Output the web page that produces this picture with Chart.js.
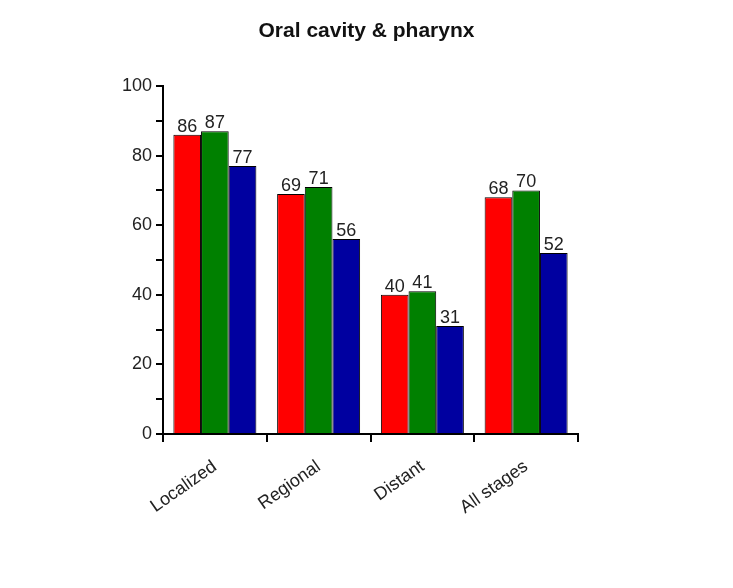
<!DOCTYPE html>
<html><head><meta charset="utf-8">
<script src="https://cdn.jsdelivr.net/npm/chart.js@4"></script>
<style>html,body{margin:0;padding:0;background:#fff}#w{width:733px;height:588px}</style>
</head><body><div id="w"><canvas id="c"></canvas></div>
<script>
const categories = ["Localized","Regional","Distant","All stages"];
const seriesA = [86,69,40,68];
const seriesB = [87,71,41,70];
const seriesC = [77,56,31,52];
const colors = ["#ff0000","#008000","#0000a0"];
const titleText = "Oral cavity & pharynx";
const labelPlugin = {
  id:'vals',
  afterDatasetsDraw(chart){
    const ctx=chart.ctx;
    ctx.save();ctx.font='18px Arial, "Liberation Sans"';ctx.fillStyle='#222';ctx.textAlign='center';ctx.textBaseline='bottom';
    chart.data.datasets.forEach((ds,i)=>{
      chart.getDatasetMeta(i).data.forEach((b,j)=>{ctx.fillText(ds.data[j],b.x,b.y+1);});
    });
    ctx.font='bold 21px Arial, "Liberation Sans"';ctx.fillStyle='#111';ctx.textBaseline='middle';
    ctx.fillText(titleText,chart.width/2,31);
    ctx.restore();
  }
};
new Chart(document.getElementById('c'),{
  type:'bar',
  data:{labels:categories,datasets:[seriesA,seriesB,seriesC].map((d,i)=>({data:d,backgroundColor:colors[i],borderColor:'#000',borderWidth:1,categoryPercentage:0.8,barPercentage:1}))},
  options:{
    responsive:true,maintainAspectRatio:false,animation:false,
    layout:{padding:{left:0,right:155,top:86,bottom:0}},
    plugins:{legend:{display:false},tooltip:{enabled:false},title:{display:false}},
    scales:{
      y:{min:0,max:100,afterFit(s){s.width=163;},
        ticks:{stepSize:10,color:'#222',font:{family:'Arial, "Liberation Sans"',size:18},callback:v=>v%20===0?v:'',padding:4},
        grid:{drawOnChartArea:false,color:'#000',tickLength:7,lineWidth:2},border:{color:'#000',width:2}},
      x:{afterFit(s){s.height=154;},
        ticks:{color:'#222',font:{family:'Arial, "Liberation Sans"',size:18},minRotation:35,maxRotation:35,padding:14},
        grid:{offset:true,drawOnChartArea:false,color:'#000',tickLength:8,lineWidth:2},border:{color:'#000',width:2}}
    }
  },
  plugins:[labelPlugin]
});
</script></body></html>
